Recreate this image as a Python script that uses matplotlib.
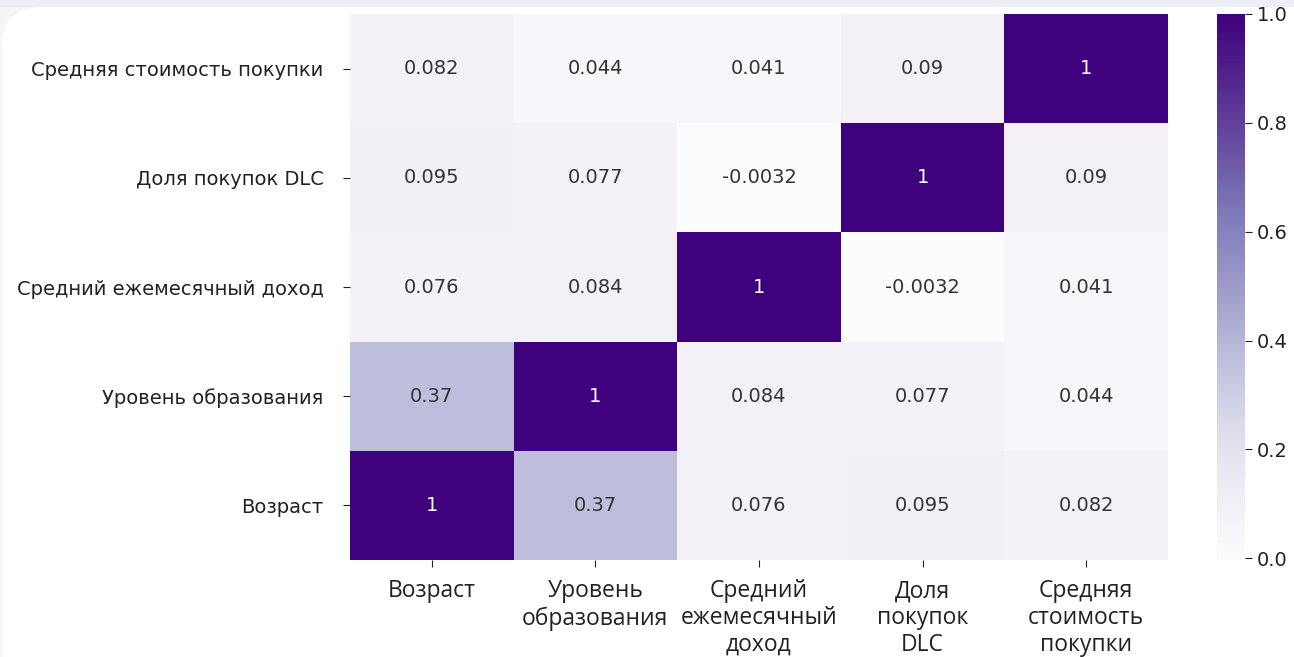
import matplotlib.pyplot as plt
import numpy as np
from matplotlib import colors
from matplotlib.patches import FancyBboxPatch, Rectangle

features = ["Возраст", "Уровень образования", "Средний ежемесячный доход",
            "Доля покупок DLC", "Средняя стоимость покупки"]
x_labels = ["Возраст", "Уровень\nобразования", "Средний\nежемесячный\nдоход",
            "Доля\nпокупок\nDLC", "Средняя\nстоимость\nпокупки"]

age = [1, 0.37, 0.076, 0.095, 0.082]
education = [0.37, 1, 0.084, 0.077, 0.044]
income = [0.076, 0.084, 1, -0.0032, 0.041]
dlc_share = [0.095, 0.077, -0.0032, 1, 0.09]
avg_price = [0.082, 0.044, 0.041, 0.09, 1]

corr = np.array([age, education, income, dlc_share, avg_price])

fig = plt.figure(figsize=(12.94, 6.57), dpi=100, facecolor="#f5f5f8")

# card background with rounded corner and top strip
fig.patches.append(Rectangle((0, 0.989), 1, 0.011, transform=fig.transFigure,
                             facecolor="#efedf8", edgecolor="none", zorder=-10))
fig.patches.append(FancyBboxPatch((0.0015, -0.2), 1.2, 1.189,
                                  boxstyle="round,pad=0,rounding_size=0.03",
                                  mutation_aspect=1294 / 657,
                                  transform=fig.transFigure,
                                  facecolor="white", edgecolor="none", zorder=-10))

ax = fig.add_axes([0.2705, 0.1476, 0.6321, 0.8311])
cax = fig.add_axes([0.9405, 0.1476, 0.0216, 0.8311])

cmap = plt.get_cmap("Purples")
norm = colors.Normalize(vmin=corr.min(), vmax=corr.max())
mesh = ax.pcolormesh(corr, cmap=cmap, norm=norm)

for i in range(corr.shape[0]):
    for j in range(corr.shape[1]):
        v = corr[i, j]
        r, g, b, _ = cmap(norm(v))
        lum = 0.2126 * r + 0.7152 * g + 0.0722 * b
        ax.text(j + 0.5, i + 0.5, format(v, ".2g"), ha="center", va="center",
                fontsize=14, color="#333333" if lum > 0.408 else "w")

ax.set_xlim(0, 5)
ax.set_ylim(0, 5)
ax.set_xticks(np.arange(5) + 0.5)
ax.set_yticks(np.arange(5) + 0.5)
ax.set_xticklabels(x_labels, fontsize=16.5, family="Open Sans", linespacing=1.15)
ax.set_yticklabels(features, fontsize=14)
ax.tick_params(axis="y", length=5, pad=14, colors="#222222")
ax.tick_params(axis="x", length=5, pad=9, colors="#222222")
for s in ax.spines.values():
    s.set_visible(False)

cb = fig.colorbar(mesh, cax=cax)
cb.outline.set_visible(False)
cb.set_ticks([0.0, 0.2, 0.4, 0.6, 0.8, 1.0])
cb.ax.tick_params(labelsize=14, length=5, colors="#222222")

fig.savefig("out.png", dpi=100, facecolor=fig.get_facecolor())
